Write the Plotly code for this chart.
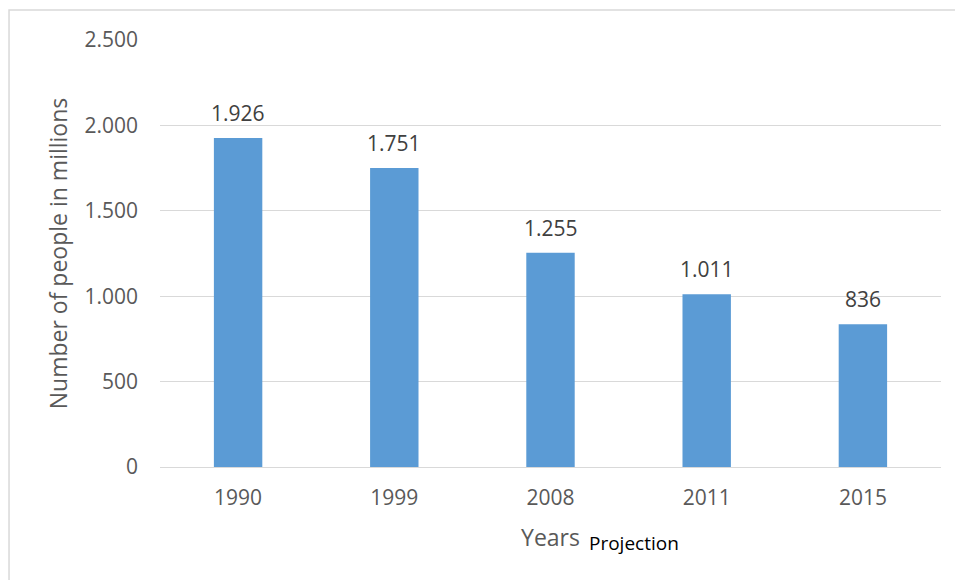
import plotly.graph_objects as go

# Population figures (millions) by survey year
years = ["1990", "1999", "2008", "2011", "2015"]
people = [1926, 1751, 1255, 1011, 836]
y_ticks = [0, 500, 1000, 1500, 2000, 2500]

FONT = "Open Sans, Liberation Sans, sans-serif"
GRID = "#d9d9d9"
TEXT = "#595959"


def dotted(v):
    # thousands separated by a dot
    return f"{v:,d}".replace(",", ".")


fig = go.Figure(
    go.Bar(
        x=years,
        y=people,
        marker=dict(color="#5b9bd5", line=dict(width=0)),
        hoverinfo="x+y",
    )
)

# value labels floating above each bar (category index positions)
labels = [
    dict(
        x=i, y=val, xref="x", yref="y", text=dotted(val),
        showarrow=False, yanchor="middle", yshift=25,
        font=dict(family=FONT, size=21, color="#404040"),
    )
    for i, val in enumerate(people)
]

fig.update_layout(
    width=955,
    height=580,
    margin=dict(l=160, r=14, t=40, b=113),
    paper_bgcolor="white",
    plot_bgcolor="white",
    separators=",.",
    bargap=0.69,
    showlegend=False,
    font=dict(family=FONT, color=TEXT),
    xaxis=dict(
        type="category",
        range=[-0.5, len(years) - 0.5],
        showgrid=False,
        showline=False,
        zeroline=False,
        tickfont=dict(family=FONT, size=21, color=TEXT),
        ticklabelstandoff=16,
        title=dict(text="Years", font=dict(family=FONT, size=23, color=TEXT), standoff=19),
    ),
    yaxis=dict(
        range=[0, 2500],
        tickvals=y_ticks,
        tickformat=",d",
        showgrid=True,
        gridcolor=GRID,
        gridwidth=1,
        zeroline=True,
        zerolinecolor=GRID,
        zerolinewidth=1,
        showline=False,
        tickfont=dict(family=FONT, size=21, color=TEXT),
        ticklabelstandoff=21,
        title=dict(text="Number of people in millions", font=dict(family=FONT, size=23, color=TEXT), standoff=10),
    ),
    shapes=[
        dict(
            type="rect", xref="paper", yref="paper",
            x0=-0.1933, x1=1.03, y0=-0.28, y1=1.0703,
            line=dict(color=GRID, width=1.5), fillcolor="rgba(0,0,0,0)", layer="below",
        )
    ],
    annotations=labels + [
        dict(
            text="Projection", xref="paper", yref="paper",
            x=0.607, y=-0.178, xanchor="center", yanchor="middle",
            showarrow=False, font=dict(family=FONT, size=19, color="black"),
        )
    ],
)

fig.write_html("out.html")
